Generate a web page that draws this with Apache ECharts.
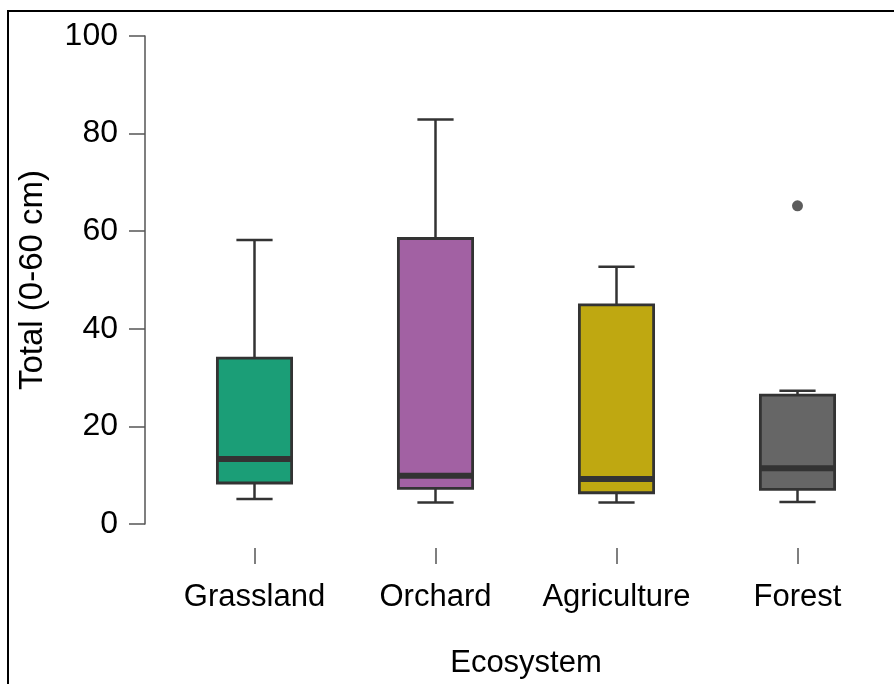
<!DOCTYPE html>
<html>
<head>
<meta charset="utf-8">
<script src="https://cdn.jsdelivr.net/npm/echarts@6/dist/echarts.min.js"></script>
<style>
  html, body { margin: 0; padding: 0; background: #fff; }
  #wrap { position: relative; width: 894px; height: 684px; }
  #main { width: 894px; height: 684px; }
  #frame { position: absolute; left: 7px; top: 10px; right: 0; bottom: 0;
           border-top: 2px solid #000; border-left: 2px solid #000; pointer-events: none; }
</style>
</head>
<body>
<div id="wrap">
  <div id="main"></div>
  <div id="frame"></div>
</div>
<script>
/* 箱线图 各生态系统 */
var categories = ['Grassland', 'Orchard', 'Agriculture', 'Forest'];
var lowerWhisker = [5.1, 4.4, 4.4, 4.5];
var q1 = [8.4, 7.3, 6.4, 7.1];
var median = [13.3, 9.9, 9.2, 11.4];
var q3 = [34.0, 58.5, 44.9, 26.4];
var upperWhisker = [58.2, 82.9, 52.7, 27.3];
var outliers = [['Forest', 65.2]];
var boxColors = ['#1b9e77', '#a261a3', '#bfa811', '#666666'];
var yTicks = [0, 20, 40, 60, 80, 100];

var lineColor = '#333333';
var font = 'Liberation Sans, Arial, sans-serif';

var boxData = [];
for (var i = 0; i < categories.length; i++) {
    boxData.push([i, lowerWhisker[i], q1[i], median[i], q3[i], upperWhisker[i]]);
}

function renderBox(params, api) {
    var idx = api.value(0);
    var band = api.size([1, 0])[0];
    var half = band * 0.205;
    var cap = band * 0.1;
    var x = api.coord([idx, 0])[0];
    var yLow = api.coord([idx, api.value(1)])[1];
    var yQ1 = api.coord([idx, api.value(2)])[1];
    var yMed = api.coord([idx, api.value(3)])[1];
    var yQ3 = api.coord([idx, api.value(4)])[1];
    var yHigh = api.coord([idx, api.value(5)])[1];
    var ls = { stroke: lineColor, lineWidth: 2.5 };
    return {
        type: 'group',
        children: [
            { type: 'line', shape: { x1: x, y1: yHigh, x2: x, y2: yQ3 }, style: ls },
            { type: 'line', shape: { x1: x, y1: yQ1, x2: x, y2: yLow }, style: ls },
            { type: 'line', shape: { x1: x - cap, y1: yHigh, x2: x + cap, y2: yHigh }, style: ls },
            { type: 'line', shape: { x1: x - cap, y1: yLow, x2: x + cap, y2: yLow }, style: ls },
            { type: 'rect', shape: { x: x - half, y: yQ3, width: half * 2, height: yQ1 - yQ3 },
              style: { fill: boxColors[idx], stroke: lineColor, lineWidth: 2.8 } },
            { type: 'line', shape: { x1: x - half, y1: yMed, x2: x + half, y2: yMed },
              style: { stroke: lineColor, lineWidth: 6 } }
        ]
    };
}

var chart = echarts.init(document.getElementById('main'));
chart.setOption({
    animation: false,
    grid: { left: 164, right: 6, top: 36, bottom: 160 },
    xAxis: {
        type: 'category',
        data: categories,
        name: 'Ecosystem',
        nameLocation: 'middle',
        nameGap: 124,
        nameTextStyle: { fontSize: 31, color: '#000', fontFamily: font },
        axisLine: { show: false },
        // R 风格: 刻度线与 0 轴之间留空
        axisTick: { show: true, interval: 0, alignWithLabel: true, length: 40,
                    lineStyle: { color: '#555', width: 1.5, type: [0, 24, 16, 100] } },
        axisLabel: { interval: 0, fontSize: 31, color: '#000', fontFamily: font, margin: 58 },
        splitLine: { show: false }
    },
    yAxis: {
        type: 'value',
        min: 0,
        max: 100,
        interval: 20,
        offset: 19,
        name: 'Total (0-60 cm)',
        nameLocation: 'middle',
        nameGap: 96,
        nameRotate: 90,
        nameTextStyle: { fontSize: 33, color: '#000', fontFamily: font },
        axisLine: { show: true, lineStyle: { color: '#555', width: 1.5 } },
        axisTick: { show: true, length: 16, lineStyle: { color: '#555', width: 1.5 } },
        axisLabel: {
            fontSize: 32, color: '#000', fontFamily: font, margin: 27,
            formatter: function (v) { return yTicks.indexOf(v) >= 0 ? String(v) : ''; }
        },
        splitLine: { show: false }
    },
    series: [
        {
            type: 'custom',
            renderItem: renderBox,
            encode: { x: 0, y: [1, 2, 3, 4, 5] },
            data: boxData,
            z: 2
        },
        {
            type: 'scatter',
            data: outliers,
            symbol: 'circle',
            symbolSize: 11,
            itemStyle: { color: lineColor },
            z: 3
        }
    ]
});
</script>
</body>
</html>
